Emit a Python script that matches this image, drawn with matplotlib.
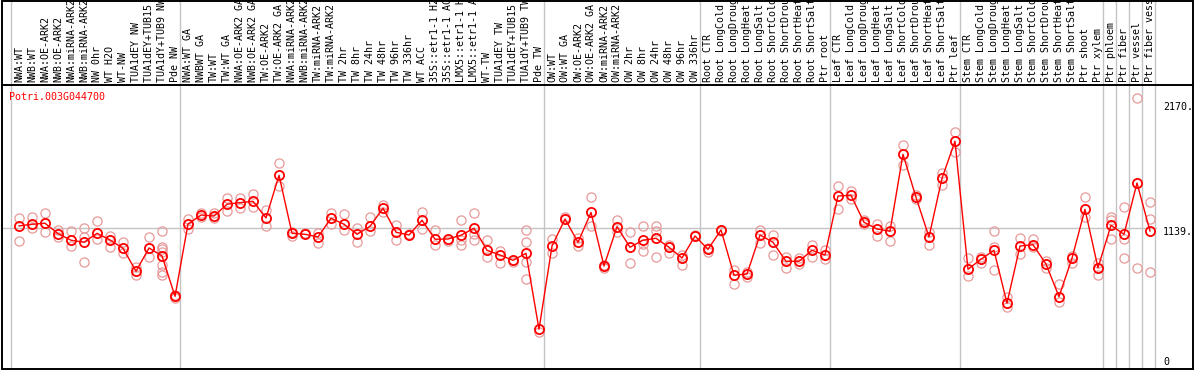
import matplotlib
matplotlib.use("Agg")
import matplotlib.pyplot as plt
import matplotlib.transforms as mtransforms
from matplotlib.patches import Rectangle
from matplotlib.lines import Line2D

gene = "Potri.003G044700"

labels = [
    # NW
    "NWA:WT", "NWB:WT", "NWA:OE-ARK2", "NWB:OE-ARK2", "NWA:miRNA-ARK2", "NWB:miRNA-ARK2",
    "NW 0hr", "WT H2O", "WT-NW", "TUA1dEY NW", "TUA1dEY+TUB15 NW", "TUA1dY+TUB9 NW", "Pde NW",
    # GA / TW
    "NWA:WT GA", "NWBWT GA", "TW:WT", "TW:WT GA", "NWA:OE-ARK2 GA", "NWB:OE-ARK2 GA",
    "TW:OE-ARK2", "TW:OE-ARK2 GA", "NWA:miRNA-ARK2 GA", "NWB:miRNA-ARK2 GA", "TW:miRNA-ARK2",
    "TW:miRNA-ARK2 GA", "TW 2hr", "TW 8hr", "TW 24hr", "TW 48hr", "TW 96hr", "TW 336hr",
    "WT ACC", "35S::etr1-1 H2O", "35S::etr1-1 ACC", "LMX5::etr1-1 H2O", "LMX5::etr1-1 ACC",
    "WT-TW", "TUA1dEY TW", "TUA1dEY+TUB15 TW", "TUA1dY+TUB9 TW", "Pde TW",
    # OW
    "OW:WT", "OW:WT GA", "OW:OE-ARK2", "OW:OE-ARK2 GA", "OW:miRNA-ARK2", "OW:miRNA-ARK2 GA",
    "OW 2hr", "OW 8hr", "OW 24hr", "OW 48hr", "OW 96hr", "OW 336hr",
    # root
    "Root CTR", "Root LongCold", "Root LongDrought", "Root LongHeat", "Root LongSalt",
    "Root ShortCold", "Root ShortDrought", "Root ShortHeat", "Root ShortSalt", "Ptr root",
    # leaf
    "Leaf CTR", "Leaf LongCold", "Leaf LongDrought", "Leaf LongHeat", "Leaf LongSalt",
    "Leaf ShortCold", "Leaf ShortDrought", "Leaf ShortHeat", "Leaf ShortSalt", "Ptr leaf",
    # stem / tissues
    "Stem CTR", "Stem LongCold", "Stem LongDrought", "Stem LongHeat", "Stem LongSalt",
    "Stem ShortCold", "Stem ShortDrought", "Stem ShortHeat", "Stem ShortSalt", "Ptr shoot",
    "Ptr xylem", "Ptr phloem", "Ptr fiber", "Ptr vessel", "Ptr fiber vessel",
]

# first column of every block (vertical separators)
group_starts = [0, 13, 41, 53, 63, 73, 84, 85, 86, 87, 88]

means = [
    1156, 1170, 1178, 1092, 1038, 1021, 1095, 1040, 971, 782, 974, 908, 575,
    1172, 1246, 1238, 1335, 1348, 1359, 1222, 1574, 1095, 1087, 1065, 1219, 1170,
    1087, 1153, 1302, 1104, 1081, 1203, 1046, 1048, 1079, 1137, 955, 916, 872, 930, 303,
    990, 1213, 1021, 1267, 825, 1150, 980, 1038, 1054, 980, 891, 1073,
    963, 1123, 749, 759, 1081, 1021, 864, 864, 955, 916,
    1403, 1409, 1186, 1131, 1112, 1747, 1392, 1065, 1549, 1855,
    798, 881, 955, 518, 990, 1001, 842, 572, 889, 1293, 811, 1161, 1087, 1510, 1114,
]

reps = [
    [1219, 1029], [1230, 1141], [1260, 1103], [1122, 1067], [1114, 993],
    [1139, 1062, 856], [1197, 1046], [1073, 985], [1023, 935], [820, 751],
    [1065, 897], [1114, 985, 966, 943, 834, 778, 751], [586, 560],
    [1216, 1128], [1265, 1227], [1260, 1219], [1384, 1277], [1389, 1302],
    [1417, 1310], [1288, 1153], [1673, 1486], [1108, 1073], [1100],
    [1100, 1018], [1265, 1172], [1252, 1122], [1141, 1021], [1230, 1114],
    [1326, 1269], [1164, 1040], [1089], [1271, 1133], [1122, 996], [1034],
    [1205, 1042, 996], [1263, 1087, 1040], [1040, 900], [952, 848], [858],
    [1120, 1021, 856, 716], [281],
    [1046, 930], [1227], [1056, 993], [1392, 1156], [836, 811], [1205, 1106],
    [1103, 848], [1156, 1004, 947], [1156, 1117, 897], [1001, 930], [916, 836], [1081],
    [976, 943], [1112], [792, 677], [778, 737], [1122, 1018], [1079, 916],
    [897, 811], [891, 842], [1001, 902], [960, 881],
    [1483, 1293], [1447, 1376], [1205, 1170], [1172, 1073], [1158, 1032],
    [1822, 1659], [1409, 1376], [1103, 999], [1595, 1491], [1929, 1764],
    [889, 745], [902, 853], [1114, 985, 790], [572, 489], [1056, 922], [1046, 985],
    [869, 806], [674, 526], [908, 853], [1397, 1232], [853, 749],
    [1232, 1205, 1046], [1315, 1051, 894], [2212, 806], [1351, 1211, 773],
]

ref_value = 1139
axis_ticks = [2170, 1139, 0]

W, H = 1194, 370
fig = plt.figure(figsize=(W / 100, H / 100), dpi=100)
mono = "DejaVu Sans Mono"
grey = "#c4c4c4"
pink = "#e89a9a"

x0, x1 = -1.31, 87.54
ax = fig.add_axes([2 / W, 1 / H, 1155 / W, 283 / H])
ax.set_xlim(x0, x1)
ax.set_ylim(-25, 2311)
ax.axis("off")

head = fig.add_axes([2 / W, 285 / H, 1155 / W, 85 / H])
head.set_xlim(x0, x1)
head.set_ylim(0, 1)
head.axis("off")

cols = list(range(len(labels)))

for g in group_starts:
    ax.axvline(g - 0.62, color=grey, lw=1, zorder=1)
    head.axvline(g - 0.62, color=grey, lw=1, zorder=1)
ax.axhline(ref_value, color=grey, lw=1, zorder=1)

for i, lab in enumerate(labels):
    head.text(i, 0.03, lab, rotation=90, ha="center", va="bottom",
              family=mono, fontsize=7.2, color="black", clip_on=False)

rx, ry = [], []
for i, vals in enumerate(reps):
    for v in vals:
        rx.append(i)
        ry.append(v)
ax.plot(rx, ry, ls="none", marker="o", ms=6.6, mfc="none", mec=pink, mew=0.9, zorder=2)
ax.plot(cols, means, color="red", lw=1.0, marker="o", ms=6.6, mfc="none",
        mec="red", mew=1.3, zorder=3)

ax.text(7.3 / 1155, 0.96, gene, transform=ax.transAxes, color="red",
        family=mono, fontsize=7.2, va="center", ha="left")

trans = mtransforms.blended_transform_factory(ax.transAxes, ax.transData)
for t in axis_ticks:
    dy = 3 if t == 0 else -3
    ax.annotate(f"{t}" if t == 0 else f"{t}.", xy=(1.0052, t), xycoords=trans,
                xytext=(0, dy), textcoords="offset points", family=mono,
                fontsize=7.2, va="center", ha="left", annotation_clip=False)

# frame and header rule
fig.add_artist(Rectangle((1.5 / W, 1 / H), 1191.5 / W, 368.5 / H, transform=fig.transFigure,
                         fill=False, ec="black", lw=1.4))
fig.add_artist(Line2D([1.5 / W, 1], [285 / H, 285 / H], transform=fig.transFigure,
                      color="black", lw=1.4))

fig.savefig("out.png", dpi=100)
